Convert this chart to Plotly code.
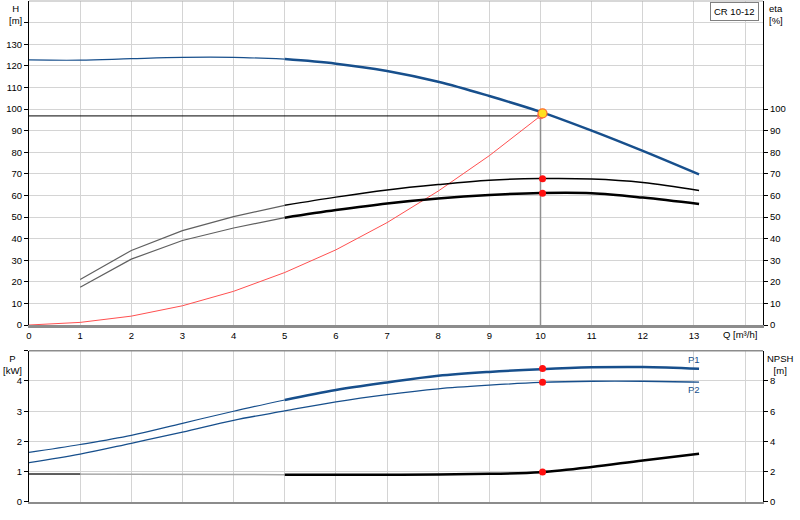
import plotly.graph_objects as go

# ---------------- data ----------------
q_h = [0, 1, 2, 3, 4, 5, 6, 7, 8, 9, 10, 11, 12, 13.1]
h_vals = [122.7, 122.6, 123.3, 123.9, 123.9, 123.1, 121.0, 117.6, 112.6, 106.0, 98.7, 90.0, 80.6, 69.7]

q_eta = [1, 2, 3, 4, 5, 6, 7, 8, 9, 10, 11, 12, 13.1]
eta_pump = [21.1, 34.5, 43.7, 50.2, 55.4, 59.2, 62.5, 65.0, 67.0, 67.8, 67.6, 66.0, 62.3]
eta_total = [17.5, 30.5, 39.1, 44.9, 49.7, 53.2, 56.3, 58.6, 60.2, 61.1, 61.0, 59.0, 56.0]

q_sys = [0, 1, 2, 3, 4, 5, 6, 7, 8, 9, 10]
h_sys = [0, 1.2, 4.1, 8.9, 15.6, 24.3, 34.8, 47.4, 62.0, 78.4, 96.8]

q_p = [0, 1, 2, 3, 4, 5, 6, 7, 8, 9, 10, 11, 12, 13.1]
p1_vals = [1.64, 1.90, 2.20, 2.60, 3.00, 3.37, 3.70, 3.95, 4.17, 4.30, 4.39, 4.45, 4.46, 4.40]
p2_vals = [1.30, 1.58, 1.94, 2.31, 2.70, 3.01, 3.31, 3.55, 3.74, 3.86, 3.95, 3.99, 3.99, 3.96]

q_npsh = [0, 1, 2, 3, 4, 5, 6, 7, 8, 9, 10, 11, 12, 13.1]
npsh_vals = [1.85, 1.85, 1.84, 1.83, 1.82, 1.80, 1.80, 1.80, 1.81, 1.86, 1.97, 2.31, 2.75, 3.19]

duty_q = 10.04
duty_h = 98.0
duty_eta = [67.7, 61.0]
duty_p = [4.41, 3.96]
duty_npsh = 1.98
op_q = 10.0
op_h = 96.8

x_ticks = list(range(0, 15))
x_ticktext = [str(v) for v in range(0, 14)] + [""]
h_ticks = list(range(0, 150, 10))
h_ticktext = [str(v) for v in range(0, 140, 10)] + [""]
eta_ticks = list(range(0, 110, 10))
p_ticks = [0, 1, 2, 3, 4]
npsh_ticks = [0, 2, 4, 6, 8]

BLUE = "#174f8c"
FONT = "Liberation Sans, Arial, sans-serif"
FS = 9.5


def split(xs, ys, xcut):
    a = [(x, y) for x, y in zip(xs, ys) if x <= xcut]
    b = [(x, y) for x, y in zip(xs, ys) if x >= xcut]
    return ([p[0] for p in a], [p[1] for p in a]), ([p[0] for p in b], [p[1] for p in b])


fig = go.Figure()

# ---------- top panel ----------
fig.add_trace(go.Scatter(x=q_sys, y=h_sys, mode="lines", line=dict(color="#ff5050", width=1),
                         xaxis="x", yaxis="y"))
fig.add_trace(go.Scatter(x=[0, op_q], y=[op_h, op_h], mode="lines", line=dict(color="black", width=1),
                         xaxis="x", yaxis="y"))
fig.add_trace(go.Scatter(x=[op_q, op_q], y=[0, duty_h], mode="lines", line=dict(color="#909090", width=1.5),
                         xaxis="x", yaxis="y"))

(a, b) = split(q_h, h_vals, 5)
fig.add_trace(go.Scatter(x=a[0], y=a[1], mode="lines", line=dict(color=BLUE, width=1.2, shape="spline"),
                         xaxis="x", yaxis="y"))
fig.add_trace(go.Scatter(x=b[0], y=b[1], mode="lines", line=dict(color=BLUE, width=2.5, shape="spline"),
                         xaxis="x", yaxis="y"))

(a, b) = split(q_eta, eta_pump, 5)
fig.add_trace(go.Scatter(x=a[0], y=a[1], mode="lines", line=dict(color="#606060", width=1.2),
                         xaxis="x", yaxis="y2"))
fig.add_trace(go.Scatter(x=b[0], y=b[1], mode="lines", line=dict(color="black", width=1.5, shape="spline"),
                         xaxis="x", yaxis="y2"))
(a, b) = split(q_eta, eta_total, 5)
fig.add_trace(go.Scatter(x=a[0], y=a[1], mode="lines", line=dict(color="#606060", width=1.2),
                         xaxis="x", yaxis="y2"))
fig.add_trace(go.Scatter(x=b[0], y=b[1], mode="lines", line=dict(color="black", width=2.5, shape="spline"),
                         xaxis="x", yaxis="y2"))

fig.add_trace(go.Scatter(x=[duty_q, duty_q], y=duty_eta, mode="markers",
                         marker=dict(color="#ff1010", size=7), xaxis="x", yaxis="y2"))
fig.add_trace(go.Scatter(x=[op_q], y=[op_h], mode="markers",
                         marker=dict(color="rgba(0,0,0,0)", size=6, line=dict(color="#ff6060", width=1)),
                         xaxis="x", yaxis="y"))
fig.add_trace(go.Scatter(x=[duty_q], y=[duty_h], mode="markers",
                         marker=dict(color="#ffe020", size=9, line=dict(color="#ff6a2a", width=1.2)),
                         xaxis="x", yaxis="y"))

# ---------- bottom panel ----------
(a, b) = split(q_p, p1_vals, 5)
fig.add_trace(go.Scatter(x=a[0], y=a[1], mode="lines", line=dict(color=BLUE, width=1.2, shape="spline"),
                         xaxis="x2", yaxis="y3"))
fig.add_trace(go.Scatter(x=b[0], y=b[1], mode="lines", line=dict(color=BLUE, width=2.5, shape="spline"),
                         xaxis="x2", yaxis="y3"))
fig.add_trace(go.Scatter(x=q_p, y=p2_vals, mode="lines", line=dict(color=BLUE, width=1.3, shape="spline"),
                         xaxis="x2", yaxis="y3"))
fig.add_trace(go.Scatter(x=[duty_q, duty_q], y=duty_p, mode="markers",
                         marker=dict(color="#ff1010", size=7), xaxis="x2", yaxis="y3"))

(a, b) = split(q_npsh, npsh_vals, 5)
fig.add_trace(go.Scatter(x=a[0], y=a[1], mode="lines", line=dict(color="#a8a8a8", width=1.5),
                         xaxis="x2", yaxis="y4"))
fig.add_trace(go.Scatter(x=a[0][:2], y=a[1][:2], mode="lines", line=dict(color="black", width=1),
                         xaxis="x2", yaxis="y4"))
fig.add_trace(go.Scatter(x=b[0], y=b[1], mode="lines", line=dict(color="black", width=2.5, shape="spline"),
                         xaxis="x2", yaxis="y4"))
fig.add_trace(go.Scatter(x=[duty_q], y=[duty_npsh], mode="markers",
                         marker=dict(color="#ff1010", size=7), xaxis="x2", yaxis="y4"))

TOP = [0.3533, 1.0]
BOT = [0.0, 0.302]
GRID = "#d4d4d4"
tickfont = dict(family=FONT, size=FS, color="black")

fig.update_layout(
    width=800, height=520,
    margin=dict(l=29, r=37, t=1, b=18, autoexpand=False),
    paper_bgcolor="white", plot_bgcolor="white",
    showlegend=False,
    font=dict(family=FONT, size=FS, color="black"),
    xaxis=dict(domain=[0, 1], anchor="y", range=[0, 14.35], tickvals=x_ticks, ticktext=x_ticktext,
               showgrid=True, gridcolor=GRID, gridwidth=1, zeroline=False, automargin=False,
               showline=True, linecolor="#8c8c8c", linewidth=2.5, ticks="", tickfont=tickfont),
    yaxis=dict(domain=TOP, anchor="x", range=[0, 150], tickvals=h_ticks, ticktext=h_ticktext,
               showgrid=True, gridcolor=GRID, gridwidth=1, zeroline=False, automargin=False,
               showline=True, linecolor="black", linewidth=1.2, ticks="outside", ticklen=4,
               tickcolor="black", tickfont=tickfont),
    yaxis2=dict(overlaying="y", side="right", anchor="x", range=[0, 150], tickvals=eta_ticks,
                showgrid=False, zeroline=False, showline=True, linecolor="black", linewidth=1.2,
                automargin=False,
                ticks="outside", ticklen=4, tickcolor="black", tickfont=tickfont),
    xaxis2=dict(domain=[0, 1], anchor="y3", range=[0, 14.35], tickvals=x_ticks, showticklabels=False,
                showgrid=True, gridcolor=GRID, gridwidth=1, zeroline=False, automargin=False,
                showline=True, linecolor="#8c8c8c", linewidth=1.5, ticks=""),
    yaxis3=dict(domain=BOT, anchor="x2", range=[0, 5], tickvals=p_ticks + [5], ticktext=["0", "1", "2", "3", "4", ""],
                showgrid=True, gridcolor=GRID, gridwidth=1, zeroline=False, automargin=False,
                showline=True, linecolor="black", linewidth=1.2, ticks="outside", ticklen=4,
                tickcolor="black", tickfont=tickfont),
    yaxis4=dict(overlaying="y3", side="right", anchor="x2", range=[0, 10], tickvals=npsh_ticks,
                showgrid=False, zeroline=False, showline=True, linecolor="black", linewidth=1.2,
                automargin=False,
                ticks="outside", ticklen=4, tickcolor="black", tickfont=tickfont),
)

# borders
fig.add_shape(type="line", xref="x2 domain", yref="y3 domain", x0=0, x1=1, y0=1, y1=1,
              line=dict(color="#8c8c8c", width=1.5))
fig.add_shape(type="line", xref="x domain", yref="y domain", x0=0, x1=1, y0=1, y1=1,
              line=dict(color="#b0b0b0", width=1))

ann = dict(showarrow=False, font=dict(family=FONT, size=FS, color="black"))
fig.add_annotation(text="H<br>[m]", xref="paper", yref="paper", x=-0.019, y=1.0,
                   xanchor="center", yanchor="top", align="center", **ann)
fig.add_annotation(text="eta<br>[%]", xref="paper", yref="paper", x=1.006, y=1.0,
                   xanchor="left", yanchor="top", align="left", **ann)
fig.add_annotation(text="P<br>[kW]", xref="paper", yref="paper", x=-0.022, y=0.302,
                   xanchor="center", yanchor="top", align="center", **ann)
fig.add_annotation(text="NPSH<br>[m]", xref="paper", yref="paper", x=1.024, y=0.302,
                   xanchor="center", yanchor="top", align="center", **ann)
fig.add_annotation(text="Q [m³/h]", xref="x", yref="paper", x=13.9, y=0.3533,
                   xanchor="center", yanchor="top", yshift=-2, **ann)
fig.add_annotation(text="P1", xref="x2", yref="y3", x=13.0, y=4.46, xanchor="center", yanchor="bottom",
                   showarrow=False, font=dict(family=FONT, size=FS, color=BLUE))
fig.add_annotation(text="P2", xref="x2", yref="y3", x=13.0, y=3.96, xanchor="center", yanchor="top",
                   showarrow=False, font=dict(family=FONT, size=FS, color=BLUE))
fig.add_annotation(text="CR 10-12", xref="paper", yref="paper", x=0.994, y=0.998,
                   xanchor="right", yanchor="top", showarrow=False,
                   font=dict(family=FONT, size=FS, color="black"),
                   bordercolor="#808080", borderwidth=1, borderpad=3, bgcolor="white")

fig.write_html("out.html", config={"displayModeBar": False},
               post_script="document.body.style.margin='0';")
